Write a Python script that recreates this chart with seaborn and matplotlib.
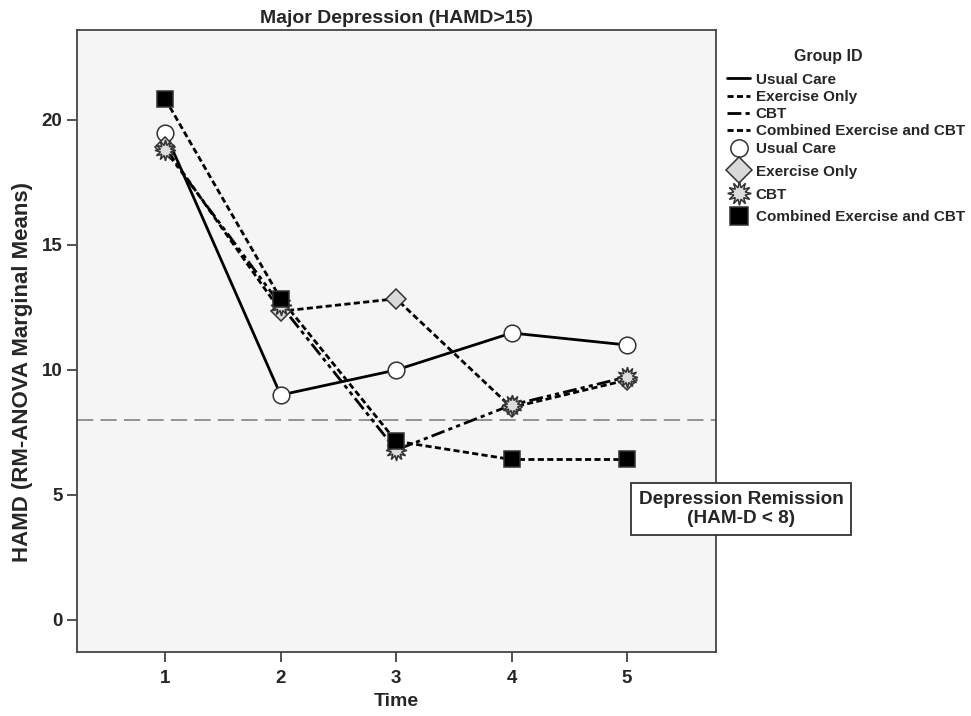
import numpy as np
import pandas as pd
import matplotlib
matplotlib.use("Agg")
import matplotlib.pyplot as plt
from matplotlib.lines import Line2D
import seaborn as sns

# ---- data ----
time_points = [1, 2, 3, 4, 5]
usual_care = [19.48, 9.0, 10.0, 11.48, 11.0]
exercise_only = [18.9, 12.35, 12.85, 8.5, 9.6]
cbt = [18.8, 12.6, 6.8, 8.6, 9.72]
combined = [20.84, 12.85, 7.15, 6.42, 6.42]
group_names = ["Usual Care", "Exercise Only", "CBT", "Combined Exercise and CBT"]
remission_threshold = 8
y_ticks = [0, 5, 10, 15, 20]

sns.set_style("ticks")
plt.rcParams['font.family'] = ['Liberation Sans', 'DejaVu Sans']
plt.rcParams['font.weight'] = 'bold'

fig = plt.figure(figsize=(9.71, 7.16), dpi=100)
ax = fig.add_axes([0.0793, 0.0894, 0.6580, 0.8687])
ax.set_facecolor('#f5f5f5')

star_marker = (12, 1, 0)

styles = [
    dict(linestyle='-', marker='o', markerfacecolor='white', markersize=12),
    dict(linestyle=(0, (2.2, 1.2)), marker='D', markerfacecolor='#d9d9d9', markersize=10),
    dict(linestyle=(0, (5, 1.5, 1.5, 1.5, 1.5, 1.5)), marker=star_marker, markerfacecolor='#dcdcdc', markersize=15),
    dict(linestyle=(0, (2.2, 1.2)), marker='s', markerfacecolor='black', markersize=11.5),
]
legend_marker_sizes = [12.5, 13, 17, 13]
series = [usual_care, exercise_only, cbt, combined]

# draw lines first
for vals, st in zip(series, styles):
    sns.lineplot(x=time_points, y=vals, ax=ax, color='black', linewidth=2,
                 linestyle=st['linestyle'], zorder=2)
# markers on top
for i, (vals, st) in enumerate(zip(series, styles)):
    sns.lineplot(x=time_points, y=vals, ax=ax, color='black', linestyle='none',
                 marker=st['marker'], markersize=st['markersize'],
                 markerfacecolor=st['markerfacecolor'], markeredgecolor='#333333',
                 markeredgewidth=1.1, zorder=3 + i)

ax.axhline(remission_threshold, color='#8a8a8a', linewidth=1.3,
           linestyle=(0, (9, 4)), zorder=1)

ax.set_xlim(0.236, 5.77)
ax.set_ylim(-1.28, 23.6)
ax.set_xticks(time_points)
ax.set_yticks(y_ticks)
ax.tick_params(axis='both', labelsize=13.5, length=7, width=1.2, color='#333333')
ax.tick_params(axis='x', pad=6)
for lab in ax.get_xticklabels() + ax.get_yticklabels():
    lab.set_fontweight('bold')
for sp in ax.spines.values():
    sp.set_visible(True)
    sp.set_color('#444444')
    sp.set_linewidth(1.3)

ax.set_xlabel('Time', fontsize=14, fontweight='bold', labelpad=4)
ax.set_ylabel('HAMD (RM-ANOVA Marginal Means)', fontsize=16, fontweight='bold')
ax.yaxis.set_label_coords(-0.069, 0.45)
ax.set_title('Major Depression (HAMD>15)', fontsize=14, fontweight='bold', pad=5)

# remission annotation box spanning the right spine
fig.text(741 / 971, 1 - 509 / 716, 'Depression Remission\n(HAM-D < 8)',
         ha='center', va='center', fontsize=13.7, fontweight='bold',
         multialignment='center', linespacing=1.2,
         bbox=dict(boxstyle='square,pad=0.4', facecolor='white', edgecolor='#333333', linewidth=1.3))

# legend: title, line keys and marker keys
fig.text(828 / 971, 1 - 57 / 716, 'Group ID', ha='center', va='center',
         fontsize=11.5, fontweight='bold')
line_handles = [Line2D([0], [0], color='black', linewidth=2, linestyle=st['linestyle'], label=name)
                for name, st in zip(group_names, styles)]
marker_handles = [Line2D([0], [0], color='black', linestyle='none', marker=st['marker'],
                         markersize=ms, markerfacecolor=st['markerfacecolor'],
                         markeredgecolor='#333333', markeredgewidth=1.1, label=name)
                  for name, st, ms in zip(group_names, styles, legend_marker_sizes)]
fig.legend(handles=line_handles, loc='upper left', bbox_to_anchor=(0.735, 0.9176),
           frameon=False, handlelength=1.5, handletextpad=0.35,
           labelspacing=0.21, prop={'weight': 'bold', 'size': 11})
fig.legend(handles=marker_handles, loc='upper left', bbox_to_anchor=(0.735, 0.821),
           frameon=False, handlelength=1.5, handletextpad=0.35,
           labelspacing=0.58, prop={'weight': 'bold', 'size': 11})

fig.savefig('out.png', dpi=100, facecolor='white')
